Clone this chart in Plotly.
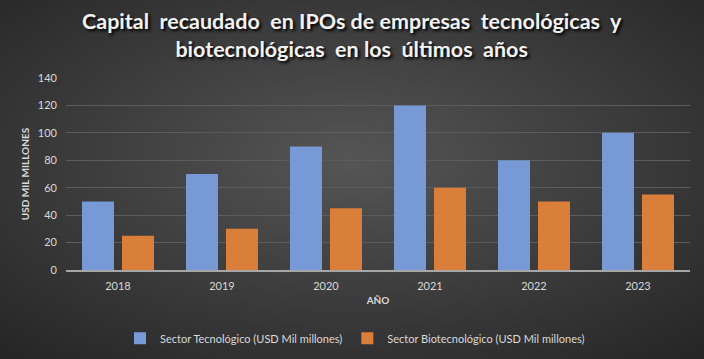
import base64
import plotly.graph_objects as go

years = ["2018", "2019", "2020", "2021", "2022", "2023"]
tech = [50, 70, 90, 120, 80, 100]
bio = [25, 30, 45, 60, 50, 55]
tech_name = "Sector Tecnológico (USD Mil millones)"
bio_name = "Sector Biotecnológico (USD Mil millones)"
title_text = ("Capital  recaudado  en IPOs de empresas  tecnológicas  y<br>"
              "biotecnológicas  en los  últimos  años")

W, H = 704, 359
L, R, T, B = 66, 14, 78, 89
pw, ph = W - L - R, H - T - B

svg = f'''<svg xmlns="http://www.w3.org/2000/svg" width="{W}" height="{H}" viewBox="0 0 {W} {H}" preserveAspectRatio="none">
<defs><radialGradient id="g" cx="50%" cy="45%" r="72%">
<stop offset="0%" stop-color="#555555"/><stop offset="100%" stop-color="#262626"/>
</radialGradient></defs><rect width="{W}" height="{H}" fill="url(#g)"/></svg>'''
src = "data:image/svg+xml;base64," + base64.b64encode(svg.encode()).decode()

fig = go.Figure()
fig.add_trace(go.Bar(x=years, y=tech, name=tech_name,
                     marker=dict(color="#779ad6", line=dict(width=0))))
fig.add_trace(go.Bar(x=years, y=bio, name=bio_name,
                     marker=dict(color="#da7f3a", line=dict(width=0))))

fig.update_layout(
    width=W, height=H,
    margin=dict(l=L, r=R, t=T, b=B, autoexpand=False),
    paper_bgcolor="#2a2a2a",
    plot_bgcolor="rgba(0,0,0,0)",
    barmode="group", bargap=0.231, bargroupgap=0.2,
    images=[dict(source=src, xref="paper", yref="paper",
                 x=-L / pw, y=1 + T / ph, sizex=W / pw, sizey=H / ph,
                 xanchor="left", yanchor="top", sizing="stretch", layer="below")],
    annotations=[dict(text=title_text, xref="paper", yref="paper",
                      x=(W / 2 - L) / pw, y=1 + (T - 6) / ph, xanchor="center", yanchor="top",
                      showarrow=False, align="center",
                      font=dict(family="Lato", size=21.5, color="#f2f2f2",
                                weight="bold", shadow="2px 2px 3px #000000"))],
    font=dict(family="Lato", color="#d9d9d9", size=11),
    xaxis=dict(title=dict(text="AÑO", font=dict(size=10, color="#d9d9d9", weight="bold"), standoff=6),
               showgrid=False, showline=True, linecolor="#a6a6a6", linewidth=1.5,
               ticks="", ticklabelstandoff=5, automargin=False,
               tickfont=dict(size=11, color="#d9d9d9")),
    yaxis=dict(title=dict(text="USD MIL MILLONES", font=dict(size=10, color="#d9d9d9", weight="bold"), standoff=6),
               range=[0, 140], dtick=20, showgrid=True, gridcolor="#5c5c5c", gridwidth=1,
               zeroline=False, showline=False, ticks="", ticklabelstandoff=8, automargin=False,
               tickfont=dict(size=11, color="#d9d9d9")),
    legend=dict(orientation="h", x=(355 - L) / pw, xanchor="center", y=-0.28, yanchor="top",
                font=dict(size=11, color="#d9d9d9"), bgcolor="rgba(0,0,0,0)",
                traceorder="normal"),
)

fig.write_html("out.html", config={"displayModeBar": False},
               post_script="document.body.style.margin='0';document.body.style.overflow='hidden';")
